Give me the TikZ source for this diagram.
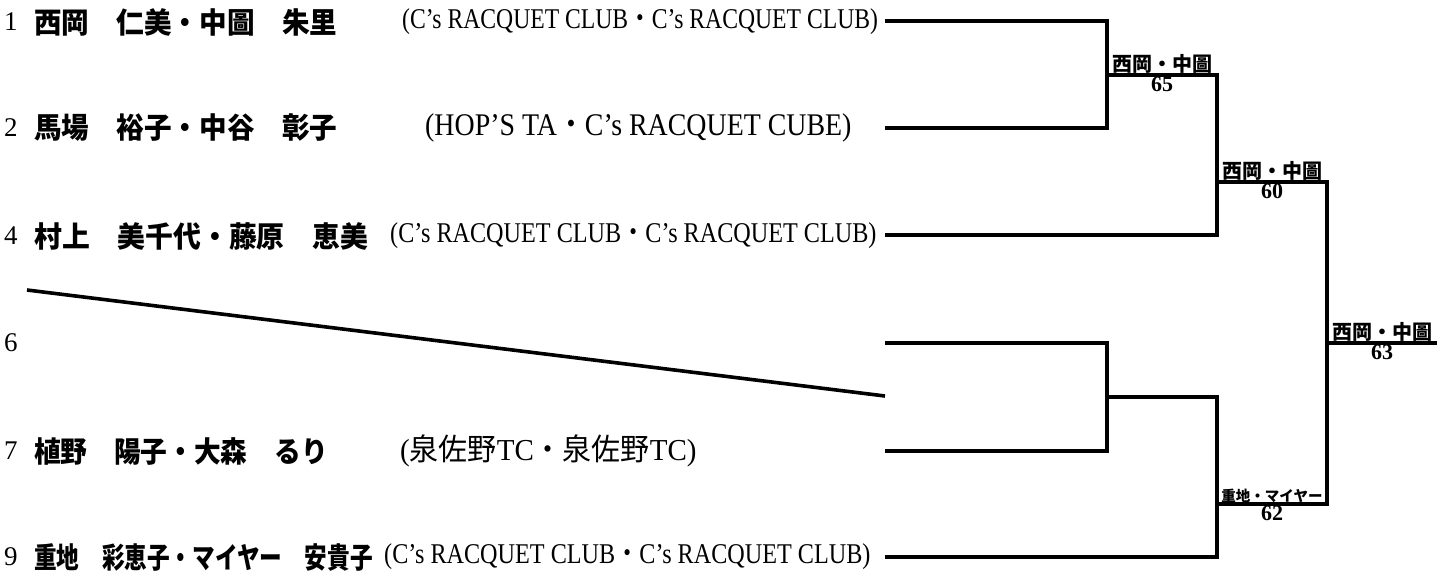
\documentclass[tikz,border=0pt]{standalone}
\usepackage{fontspec}
\setmainfont{Liberation Serif}
\newfontfamily\jpn{Noto Sans CJK JP}
\usepackage{graphicx}

\tikzset{
  bline/.style={line width=3.2pt},
  seed/.style={draw=none, anchor=west, inner sep=0pt, font=\fontsize{27}{27}\selectfont},
  player/.style={draw=none, anchor=west, inner sep=0pt, font=\jpn\bfseries\fontsize{29}{29}\selectfont},
  club/.style={draw=none, anchor=west, inner sep=0pt, font=\fontsize{26}{26}\selectfont},
  winner/.style={draw=none, anchor=south, inner sep=1.5pt, font=\jpn\bfseries\fontsize{20}{20}\selectfont},
  score/.style={draw=none, anchor=north, inner sep=2pt, font=\bfseries\fontsize{22}{22}\selectfont}
}

\begin{document}
\begin{tikzpicture}[x=1pt,y=-1pt]
\useasboundingbox (0,0) rectangle (1450,576);

% seed numbers
\foreach \Seed/\Y in {1/22, 2/128, 4/236, 6/343, 7/451, 9/557}{
    \node [seed] (s\Seed) at (4,\Y) {\Seed};
}

% players
\node [player] (p1) at (34,22)  {\scalebox{0.95}[1]{西岡　仁美・中圖　朱里}};
\node [player] (p2) at (34,128) {\scalebox{0.95}[1]{馬場　裕子・中谷　彰子}};
\node [player] (p4) at (34,236) {\scalebox{0.96}[1]{村上　美千代・藤原　恵美}};
\node [player] (p7) at (34,451) {\scalebox{0.92}[1]{植野　陽子・大森　るり}};
\node [player] (p9) at (34,557) {\scalebox{0.78}[1]{重地　彩恵子・マイヤー　安貴子}};

% clubs
\node [club] (c1) at (402,22)  {\scalebox{0.91}[1.1]{(C’s RACQUET CLUB{\jpn ・}C’s RACQUET CLUB)}};
\node [club, font=\fontsize{30}{30}\selectfont] (c2) at (425,128) {\scalebox{0.93}[1.05]{(HOP’S TA{\jpn ・}C’s RACQUET CUBE)}};
\node [club] (c4) at (390,236) {\scalebox{0.93}[1.1]{(C’s RACQUET CLUB{\jpn ・}C’s RACQUET CLUB)}};
\node [club, font=\fontsize{29}{29}\selectfont] (c7) at (400,451) {\scalebox{1}[1.05]{({\jpn 泉佐野}TC{\jpn ・泉佐野}TC)}};
\node [club] (c9) at (384,557) {\scalebox{0.93}[1.1]{(C’s RACQUET CLUB{\jpn ・}C’s RACQUET CLUB)}};

% line ends
\coordinate (a1) at (885,21);
\coordinate (a2) at (885,128);
\coordinate (a4) at (885,235);
\coordinate (a6) at (885,343);
\coordinate (a7) at (885,451);
\coordinate (a9) at (885,557);
\coordinate (d6) at (885,396);
\coordinate (d0) at (27,290);

% match points
\coordinate (m12)  at (1107,75);
\coordinate (m124) at (1217,182);
\coordinate (m67)  at (1107,397);
\coordinate (m679) at (1217,504);
\coordinate (mf)   at (1327,343);
\coordinate (win)  at (1437,343);

\draw[bline] (a1) -| (m12) |- (a2);
\draw[bline] (m12) -| (m124) |- (a4);
\draw[bline] (a6) -| (m67) |- (a7);
\draw[bline] (m67) -| (m679) |- (a9);
\draw[bline] (m124) -| (mf) |- (m679);
\draw[bline] (mf) -- (win);
\draw[line width=3.6pt] (d0) -- (d6); % bye line

% results
\node [winner] (w12) at (1162,75) {西岡・中圖};
\node [score] (r12) at (1162,75) {65};
\node [winner] (w124) at (1272,182) {西岡・中圖};
\node [score] (r124) at (1272,182) {60};
\node [winner, font=\jpn\bfseries\fontsize{14.5}{14.5}\selectfont] (w679) at (1272,504) {重地・マイヤー};
\node [score] (r679) at (1272,504) {62};
\node [winner] (wf) at (1382,343) {西岡・中圖};
\node [score] (rf) at (1382,343) {63};

\end{tikzpicture}
\end{document}
